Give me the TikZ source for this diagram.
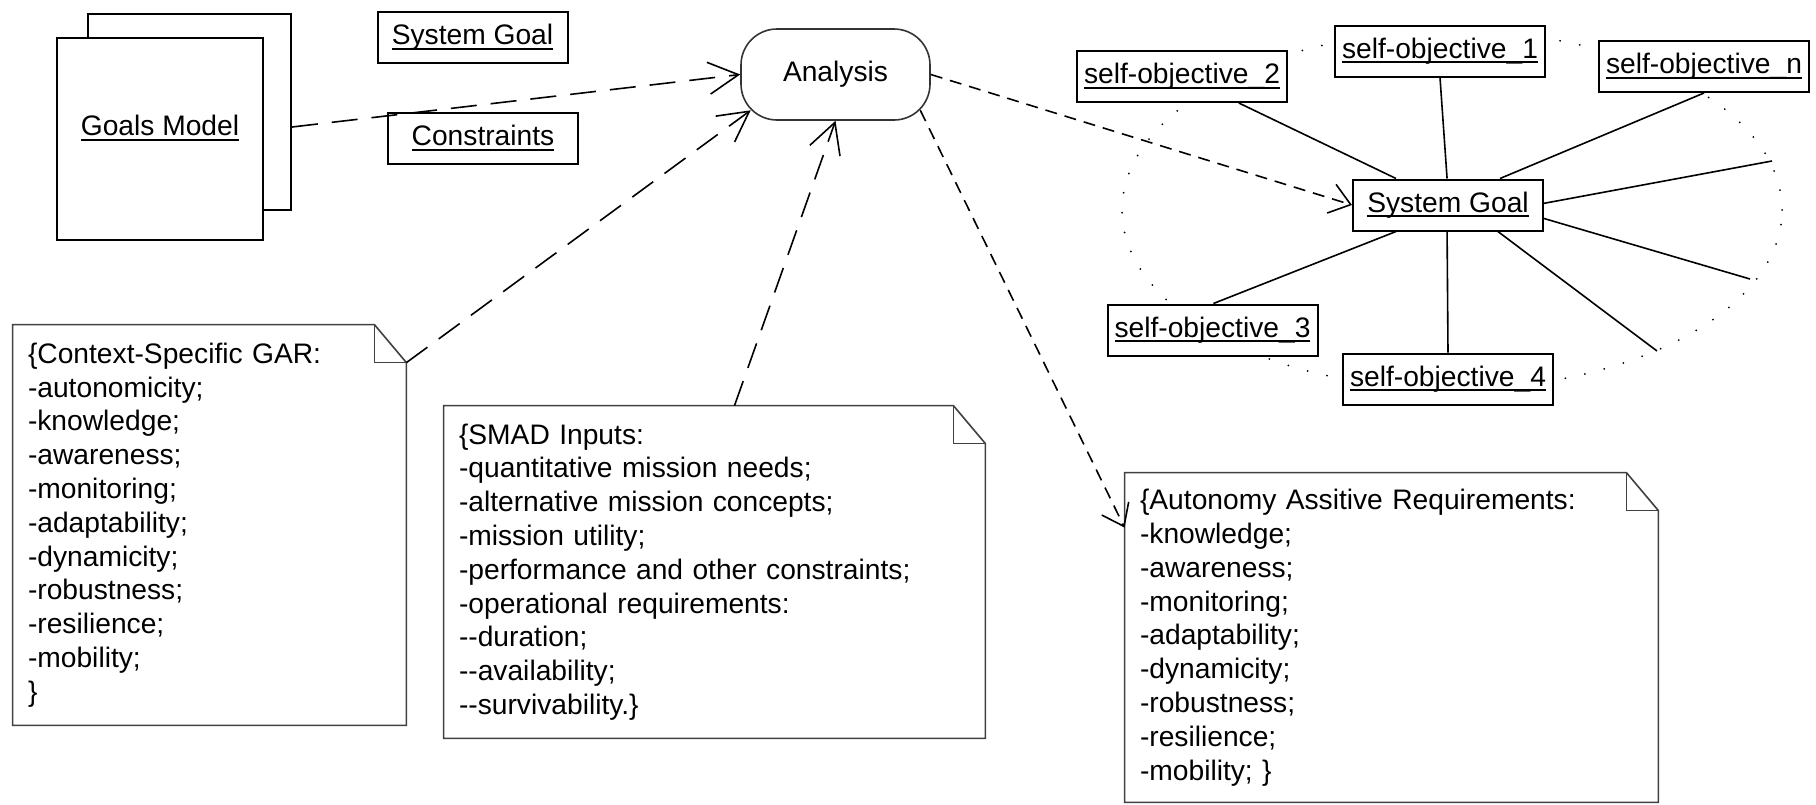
\documentclass[tikz,border=0pt]{standalone}
\usepackage{fontspec}
\setmainfont{Liberation Sans}[Ligatures=TeXOff]
\usetikzlibrary{arrows.meta}

\newsavebox\undlbox
\newcommand{\undl}[1]{\sbox\undlbox{#1}\rlap{\rule[-2.5pt]{\wd\undlbox}{1pt}}\usebox\undlbox}
\newcommand{\dognote}[1]{%
  \draw[notefill] (#1.north west) -- ([xshift=-16pt]#1.north east) -- ([yshift=-19pt]#1.north east)
    -- (#1.south east) -- (#1.south west) -- cycle;
  \draw[notefill] ([xshift=-16pt]#1.north east) |- ([yshift=-19pt]#1.north east);}

\begin{document}
\begin{tikzpicture}[x=0.5pt,y=-0.5pt,font=\fontsize{14.1}{16.9}\selectfont,
  box/.style={draw,line width=1pt,fill=white,minimum height=25.5pt,inner sep=0pt},
  goalbox/.style={box,minimum width=95pt},
  objbox/.style={box,minimum width=105pt},
  note/.style={align=left,inner xsep=7.5pt,inner ysep=0pt},
  notefill/.style={draw=black!75,line width=0.8pt},
  dep/.style={line width=0.8pt,dash pattern=on 13pt off 7pt,-{Straight Barb[length=15pt,width=16pt]}},
  trace/.style={line width=0.8pt,dash pattern=on 6pt off 4pt,-{Straight Barb[length=10pt,width=15pt]}},
  link/.style={line width=0.8pt}]
  \useasboundingbox (0,0) rectangle (1816,804);

  \node[box,minimum width=101.5pt,minimum height=98pt] (goalsback) at (189.5,112) {};
  \node[box,minimum width=103pt,minimum height=101pt] (goals) at (160,139) {};
  \node (goalstext) at (160,128) {\undl{Goals Model}};
  \node[goalbox] (goaltop) at (472.5,37.5) {\undl{System Goal}};
  \node[goalbox] (constr) at (483,138) {\undl{Constraints}};
  \node[draw=black!80,line width=0.8pt,rounded corners=18pt,minimum width=94.5pt,minimum height=45.5pt] (analysis) at (835.5,74.5) {Analysis};

  \draw[line width=1pt,line cap=round,dash pattern=on 0pt off 10pt] (1452,210) ellipse [x radius=165pt,y radius=89.5pt];
  \foreach \n/\t/\x/\y in {so1/1/1440/51,so2/2/1182/76.5,son/n/1704/66.5,so3/3/1212.5/330,so4/4/1448/379}
    \node[objbox] (\n) at (\x,\y) {\undl{self-objective\_\t}};
  \node[goalbox] (sysgoal) at (1448,205) {\undl{System Goal}};
  \coordinate (free1) at (1772,161);
  \coordinate (free2) at (1750,279);
  \coordinate (free3) at (1657,351);
  \foreach \a/\n/\b in {153/so2/335,92/so1/270,27/son/270,207/so3/88,268/so4/90}
    \draw[link] (sysgoal.\a) -- (\n.\b);
  \foreach \a/\c in {1/free1,352/free2,332/free3}
    \draw[link] (sysgoal.\a) -- (\c);

  \node[note,text width=181.5pt,minimum width=196.5pt,minimum height=200pt] (gar) at (209.5,525)
    {\{Context-Specific GAR:\\-autonomicity;\\-knowledge;\\-awareness;\\-monitoring;\\-adaptability;\\-dynamicity;\\-robustness;\\-resilience;\\-mobility;\\\}};
  \node[note,text width=255.5pt,minimum width=270.5pt,minimum height=166pt] (smad) at (714.5,572)
    {\{SMAD Inputs:\\-quantitative mission needs;\\-alternative mission concepts;\\-mission utility;\\-performance and other constraints;\\-operational requirements:\\--duration;\\--availability;\\--survivability.\}};
  \node[note,text width=251.5pt,minimum width=266.5pt,minimum height=164.5pt] (aar) at (1391.5,637.5)
    {\{Autonomy Assitive Requirements:\\-knowledge;\\-awareness;\\-monitoring;\\-adaptability;\\-dynamicity;\\-robustness;\\-resilience;\\-mobility; \}};
  \dognote{gar}
  \dognote{smad}
  \dognote{aar}

  \draw[dep] ([yshift=-7.5pt]goalsback.east) -- (analysis.west);
  \draw[dep] ([yshift=-19pt]gar.north east) -- ([shift={(10.5,-10.5)}]analysis.south west);
  \draw[dep] ([xshift=10pt]smad.north) -- (analysis.south);
  \draw[trace] (analysis.east) -- (sysgoal.west);
  \draw[trace] ([shift={(-10.5,-10.5)}]analysis.south east) -- ([yshift=-27.5pt]aar.north west);
\end{tikzpicture}
\end{document}
